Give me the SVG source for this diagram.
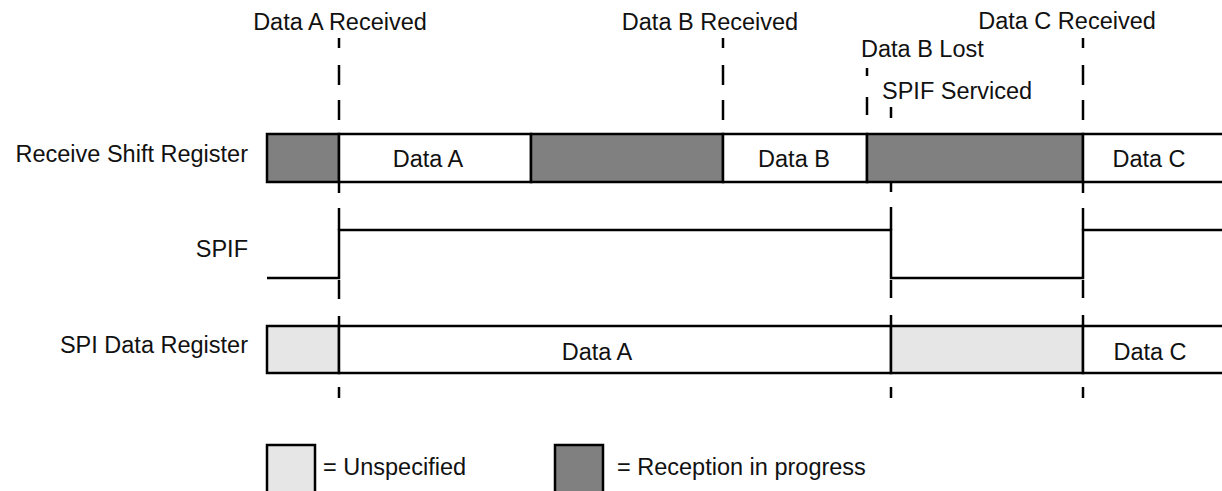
<svg xmlns="http://www.w3.org/2000/svg" width="1222" height="491" viewBox="0 0 1222 491">
  <style>
    text { font-family: "Liberation Sans", Arial, sans-serif; font-size: 23.5px; fill: #111; }
    .lbl { text-anchor: end; }
    .mid { text-anchor: middle; }
    .box { stroke: #000; stroke-width: 2.5; }
    .dark { fill: #808080; }
    .light { fill: #e6e6e6; }
    .white { fill: #fff; }
    .dash { stroke: #000; stroke-width: 2.5; fill: none; }
    .wave { stroke: #000; stroke-width: 2.5; fill: none; }
  </style>

  <rect width="1222" height="491" fill="#fff"/>

  <!-- event labels -->
  <g id="event-labels">
    <text class="mid" x="340" y="30">Data A Received</text>
    <text class="mid" x="710" y="30">Data B Received</text>
    <text class="mid" x="1067" y="29">Data C Received</text>
    <text x="861" y="57">Data B Lost</text>
    <text x="882" y="99">SPIF Serviced</text>
  </g>

  <!-- Receive Shift Register -->
  <g id="receive-shift-register">
    <text class="lbl" x="248" y="162">Receive Shift Register</text>
    <rect class="box dark" x="267" y="134" width="72" height="48"/>
    <rect class="box white" x="339" y="134" width="192" height="48"/>
    <rect class="box dark" x="531" y="134" width="192" height="48"/>
    <rect class="box white" x="723" y="134" width="144" height="48"/>
    <rect class="box dark" x="867" y="134" width="216" height="48"/>
    <rect class="box white" x="1083" y="134" width="150" height="48"/>
    <text class="mid" x="428" y="167">Data A</text>
    <text class="mid" x="794" y="167">Data B</text>
    <text class="mid" x="1149" y="167">Data C</text>
  </g>

  <!-- SPIF -->
  <g id="spif">
    <text class="lbl" x="248" y="257">SPIF</text>
    <path class="wave" d="M267,278 H339 V230 H891 V278 H1083 V230 H1222"/>
  </g>

  <!-- SPI Data Register -->
  <g id="spi-data-register">
    <text class="lbl" x="248" y="353">SPI Data Register</text>
    <rect class="box light" x="267" y="326" width="72" height="47"/>
    <rect class="box white" x="339" y="326" width="552" height="47"/>
    <rect class="box light" x="891" y="326" width="192" height="47"/>
    <rect class="box white" x="1083" y="326" width="150" height="47"/>
    <text class="mid" x="597" y="360">Data A</text>
    <text class="mid" x="1150" y="360">Data C</text>
  </g>

  <!-- legend -->
  <g id="legend">
    <rect class="box light" x="267" y="445" width="48" height="52"/>
    <text x="323" y="475">= Unspecified</text>
    <rect class="box dark" x="555" y="445" width="48" height="52"/>
    <text x="617" y="475">= Reception in progress</text>
  </g>

  <!-- connectors: dashed event markers -->
  <g id="connectors">
    <path class="dash" d="M339,38 V48 M339,65 V85 M339,100 V120 M339,183 V193 M339,208 V230 M339,280 V299 M339,316 V326 M339,387 V398"/>
    <path class="dash" d="M723,38 V48 M723,65 V85 M723,100 V120"/>
    <path class="dash" d="M867,68 V76 M867,97 V115"/>
    <path class="dash" d="M891,107 V118 M891,183 V192 M891,207 V230 M891,280 V298 M891,315 V326 M891,387 V398"/>
    <path class="dash" d="M1083,38 V48 M1083,65 V85 M1083,100 V120 M1083,183 V193 M1083,208 V230 M1083,280 V298 M1083,315 V326 M1083,387 V398"/>
  </g>
</svg>
